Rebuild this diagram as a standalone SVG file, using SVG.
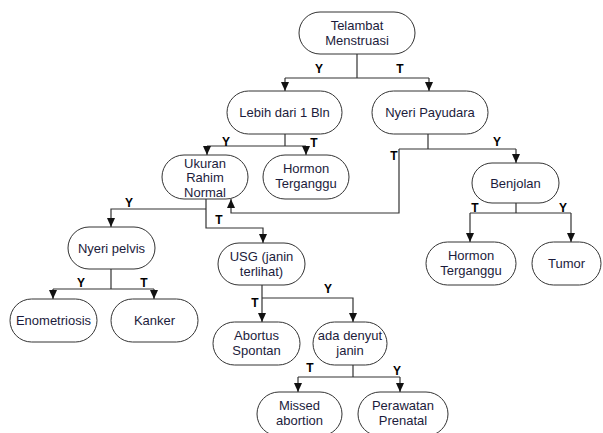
<svg xmlns="http://www.w3.org/2000/svg" width="603" height="433" viewBox="0 0 603 433">
<style>
.box{fill:#fff;stroke:#333;stroke-width:1}
.t{font-family:"Liberation Sans",Arial,sans-serif;font-size:13px;fill:#1c1c3c;text-anchor:middle}
.c{fill:none;stroke:#333;stroke-width:1.2}
.l{font-family:"Liberation Sans",Arial,sans-serif;font-size:12px;font-weight:bold;fill:#000;text-anchor:middle}
</style>
<defs>
<marker id="ah" markerUnits="userSpaceOnUse" markerWidth="9" markerHeight="9" refX="9" refY="4" orient="auto">
<path d="M0,0 L9,4 L0,8 z" fill="#111"/>
</marker>
</defs>
<rect width="603" height="433" fill="#fff"/>
<g id="connectors">
<path class="c" d="M357,54 V78 M285,78 H429"/>
<path class="c" d="M285,78 V91" marker-end="url(#ah)"/>
<path class="c" d="M429,78 V91" marker-end="url(#ah)"/>
<path class="c" d="M285,134 V146 M207,146 H306"/>
<path class="c" d="M207,146 V155" marker-end="url(#ah)"/>
<path class="c" d="M306,146 V155" marker-end="url(#ah)"/>
<path class="c" d="M428,134 V149 M399,149 H516"/>
<path class="c" d="M516,149 V163" marker-end="url(#ah)"/>
<path class="c" d="M399,149 V213 H231 V199" marker-end="url(#ah)"/>
<path class="c" d="M206,199 V228 H263 V243" marker-end="url(#ah)"/>
<path class="c" d="M206,209 H111 V227" marker-end="url(#ah)"/>
<path class="c" d="M516,203 V213 M470,213 H571"/>
<path class="c" d="M470,213 V242" marker-end="url(#ah)"/>
<path class="c" d="M571,213 V242" marker-end="url(#ah)"/>
<path class="c" d="M111,269 V289 M53,289 H154"/>
<path class="c" d="M53,289 V299" marker-end="url(#ah)"/>
<path class="c" d="M154,289 V299" marker-end="url(#ah)"/>
<path class="c" d="M262,285 V322" marker-end="url(#ah)"/>
<path class="c" d="M262,298 H353 V322" marker-end="url(#ah)"/>
<path class="c" d="M353,365 V377 M298,377 H400"/>
<path class="c" d="M298,377 V392" marker-end="url(#ah)"/>
<path class="c" d="M400,377 V392" marker-end="url(#ah)"/>
<text class="l" x="319" y="73">Y</text>
<text class="l" x="400" y="73">T</text>
<text class="l" x="226" y="146">Y</text>
<text class="l" x="314" y="147">T</text>
<text class="l" x="497" y="146">Y</text>
<text class="l" x="394" y="160">T</text>
<text class="l" x="129" y="207">Y</text>
<text class="l" x="219" y="224">T</text>
<text class="l" x="475" y="212">T</text>
<text class="l" x="563" y="212">Y</text>
<text class="l" x="81" y="287">Y</text>
<text class="l" x="144" y="287">T</text>
<text class="l" x="255" y="307">T</text>
<text class="l" x="328" y="293">Y</text>
<text class="l" x="310" y="372">T</text>
<text class="l" x="397" y="375">Y</text>
</g>
<g id="n-telambat"><rect class="box" x="299" y="12" width="116" height="42" rx="21"/><text class="t" x="357" y="30">Telambat</text><text class="t" x="357" y="45">Menstruasi</text></g>
<g id="n-lebih"><rect class="box" x="227" y="91" width="115" height="43" rx="21.5"/><text class="t" x="284.5" y="117">Lebih dari 1 Bln</text></g>
<g id="n-payudara"><rect class="box" x="372" y="91" width="116" height="43" rx="21.5"/><text class="t" x="430" y="117">Nyeri Payudara</text></g>
<g id="n-ukuran"><rect class="box" x="162" y="155" width="86" height="44" rx="22"/><text class="t" x="205" y="167.5">Ukuran</text><text class="t" x="205" y="182">Rahim</text><text class="t" x="205" y="196.5">Normal</text></g>
<g id="n-hormon1"><rect class="box" x="263" y="155" width="86" height="44" rx="22"/><text class="t" x="306" y="173">Hormon</text><text class="t" x="306" y="188">Terganggu</text></g>
<g id="n-benjolan"><rect class="box" x="472" y="163" width="87" height="40" rx="20"/><text class="t" x="515.5" y="187.5">Benjolan</text></g>
<g id="n-hormon2"><rect class="box" x="426" y="242" width="90" height="43" rx="21.5"/><text class="t" x="471" y="260">Hormon</text><text class="t" x="471" y="275">Terganggu</text></g>
<g id="n-tumor"><rect class="box" x="532" y="242" width="69" height="43" rx="21.5"/><text class="t" x="566.5" y="268">Tumor</text></g>
<g id="n-pelvis"><rect class="box" x="68" y="227" width="87" height="42" rx="21"/><text class="t" x="111.5" y="252.5">Nyeri pelvis</text></g>
<g id="n-usg"><rect class="box" x="218" y="243" width="87" height="42" rx="21"/><text class="t" x="261.5" y="260.5">USG (janin</text><text class="t" x="261.5" y="275.5">terlihat)</text></g>
<g id="n-enometriosis"><rect class="box" x="10" y="299" width="87" height="43" rx="21.5"/><text class="t" x="53.5" y="325">Enometriosis</text></g>
<g id="n-kanker"><rect class="box" x="111" y="299" width="87" height="43" rx="21.5"/><text class="t" x="154.5" y="325">Kanker</text></g>
<g id="n-abortus"><rect class="box" x="213" y="322" width="87" height="43" rx="21.5"/><text class="t" x="256.5" y="340">Abortus</text><text class="t" x="256.5" y="355">Spontan</text></g>
<g id="n-denyut"><rect class="box" x="313" y="322" width="74" height="43" rx="21.5"/><text class="t" x="350" y="340">ada denyut</text><text class="t" x="350" y="355">janin</text></g>
<g id="n-missed"><rect class="box" x="257" y="392" width="85" height="44" rx="22"/><text class="t" x="299.5" y="410">Missed</text><text class="t" x="299.5" y="425">abortion</text></g>
<g id="n-perawatan"><rect class="box" x="358" y="392" width="90" height="44" rx="22"/><text class="t" x="403" y="410">Perawatan</text><text class="t" x="403" y="425">Prenatal</text></g>
</svg>
